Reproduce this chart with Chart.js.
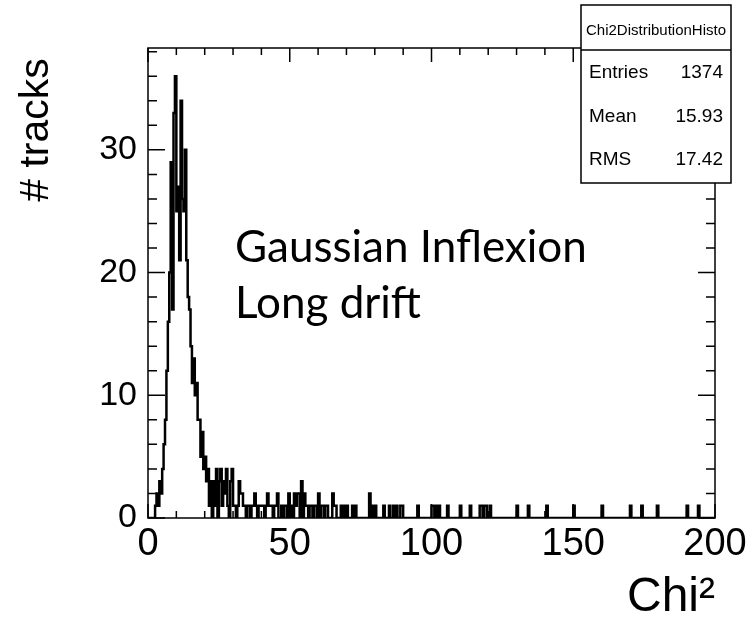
<!DOCTYPE html>
<html><head><meta charset="utf-8">
<script src="https://cdn.jsdelivr.net/npm/chart.js@4/dist/chart.umd.min.js"></script>
<style>html,body{margin:0;padding:0;background:#fff}</style>
</head><body>
<canvas id="c" width="754" height="629"></canvas>
<script>
// ---- data ----
const binWidth = 0.5;           // histogram bin width in Chi2 units
const xRange = [0, 200];
// bin contents for bins starting at 0, 0.5, 1.0 ... 39.5
const peakCounts = [
  0,0,0,0,0,1,2,1,3,2,
  4,6,8,12,16,20,29,17,33,36,
  25,27,21,34,26,25,30,21,18,17,
  14,11,13,10,11,8,8,5,7,4,
  5,3,4,1,3,0,3,1,4,0,
  3,4,1,3,2,4,1,0,3,4,
  1,1,0,1,3,2,2,1,1,0,
  1,1,0,1,1,2,1,0,1,1
];
// sparse tail above 40: lower bin edge and content
const tailLowEdges = [40,40.5,41.5,42,42.5,43,43.5,44.5,45,45.5,47,48,48.5,49.5,50.5,51.5,52,52.5,53,54,55,55.5,56,57,57.5,58.5,59,60,61,61.5,62.5,63,65,65.5,66,68,69,70,72,73,78,79,80,83,85,86.5,87.5,89,89.5,95,100,100.5,101.5,102.5,105.5,110,113.5,117,117.5,118.5,119,120.5,130,134,140.5,150,160,170,174,179.5,190,194];
const tailCounts   = [1,1,1,2,1,1,1,1,1,2,1,1,1,2,1,2,1,2,2,3,2,1,1,1,1,1,1,2,1,1,1,1,2,1,1,1,1,1,1,1,2,1,1,1,1,1,1,1,1,1,1,1,1,1,1,1,1,1,1,1,1,1,1,1,1,1,1,1,1,1,1,1];
const xTickValues = [0, 50, 100, 150, 200];
const xTickLabels = ['0', '50', '100', '150', '200'];
const yTickValues = [0, 10, 20, 30];
const yTickLabels = ['0', '10', '20', '30'];
const yMax = 38.3;
const statsTitle = 'Chi2DistributionHisto';
const statsNames = ['Entries', 'Mean', 'RMS'];
const statsValues = ['1374', '15.93', '17.42'];
const noteLines = ['Gaussian Inflexion', 'Long drift'];
const xTitle = 'Chi\u00B2';
const yTitle = '# tracks\u2005';

// ---- build histogram steps ----
const nBins = Math.round((xRange[1] - xRange[0]) / binWidth);
const counts = new Array(nBins).fill(0);
peakCounts.forEach((v, i) => { counts[i] = v; });
tailLowEdges.forEach((e, i) => { counts[Math.round((e - xRange[0]) / binWidth)] = tailCounts[i]; });
const points = counts.map((v, i) => ({ x: xRange[0] + i * binWidth, y: v }));
points.push({ x: xRange[1], y: counts[nBins - 1] });

const FONT = 'Liberation Sans, Arial, Helvetica, sans-serif';

const rootFrame = {
  id: 'rootFrame',
  afterDatasetsDraw(chart) {
    const { ctx, chartArea: a, scales: { x, y } } = chart;
    ctx.save();
    ctx.strokeStyle = '#000';
    ctx.lineWidth = 1.5;
    ctx.strokeRect(a.left, a.top, a.right - a.left, a.bottom - a.top);
    ctx.beginPath();
    for (let v = xRange[0]; v <= xRange[1]; v += 10) {
      const px = x.getPixelForValue(v);
      const len = (v % 50 === 0) ? 14 : 7;
      ctx.moveTo(px, a.bottom); ctx.lineTo(px, a.bottom - len);
      ctx.moveTo(px, a.top); ctx.lineTo(px, a.top + len);
    }
    for (let v = 0; v <= yMax; v += 2) {
      const py = y.getPixelForValue(v);
      const len = (v % 10 === 0) ? 17 : 9;
      ctx.moveTo(a.left, py); ctx.lineTo(a.left + len, py);
      ctx.moveTo(a.right, py); ctx.lineTo(a.right - len, py);
    }
    ctx.stroke();

    ctx.fillStyle = '#000';
    ctx.font = '44px Lato, Carlito, Calibri, sans-serif';
    ctx.textAlign = 'left';
    ctx.textBaseline = 'alphabetic';
    ctx.fillText(noteLines[0], 235, 262);
    ctx.fillText(noteLines[1], 235, 318);

    const bx = 581, by = 5, bw = 150, bh = 178, sep = 50;
    ctx.fillStyle = '#fff';
    ctx.fillRect(bx, by, bw, bh);
    ctx.lineWidth = 1.5;
    ctx.strokeRect(bx, by, bw, bh);
    ctx.beginPath(); ctx.moveTo(bx, sep); ctx.lineTo(bx + bw, sep); ctx.stroke();
    ctx.fillStyle = '#000';
    ctx.font = '15px ' + FONT;
    ctx.textAlign = 'center'; ctx.textBaseline = 'middle';
    ctx.fillText(statsTitle, bx + bw / 2, 31);
    ctx.font = '19px ' + FONT;
    const rowsY = [73, 117, 160];
    statsNames.forEach((n, i) => {
      ctx.textAlign = 'left'; ctx.fillText(n, bx + 8, rowsY[i]);
      ctx.textAlign = 'right'; ctx.fillText(statsValues[i], bx + bw - 8, rowsY[i]);
    });
    ctx.restore();
  }
};

new Chart(document.getElementById('c'), {
  type: 'line',
  data: { datasets: [{
    data: points, stepped: true, borderColor: '#000', borderWidth: 2.5,
    pointRadius: 0, fill: false, tension: 0
  }]},
  options: {
    responsive: false, animation: false, devicePixelRatio: 1,
    layout: { padding: { left: 0, right: 39, top: 48, bottom: 0 } },
    plugins: { legend: { display: false }, tooltip: { enabled: false } },
    scales: {
      x: {
        type: 'linear', min: xRange[0], max: xRange[1],
        afterFit(s) { s.height = 111; },
        afterBuildTicks(s) { s.ticks = xTickValues.map(v => ({ value: v })); },
        grid: { display: false, drawTicks: false }, border: { display: false },
        ticks: { padding: 4, autoSkip: false, maxRotation: 0, color: '#000',
          font: { family: FONT, size: 38 }, callback: (v, i) => xTickLabels[i] },
        title: { display: true, text: xTitle, align: 'end', color: '#000',
          font: { family: FONT, size: 48 }, padding: { top: 0, bottom: 2 } }
      },
      y: {
        type: 'linear', min: 0, max: yMax,
        afterFit(s) { s.width = 148; },
        afterBuildTicks(s) { s.ticks = yTickValues.map(v => ({ value: v })); },
        grid: { display: false, drawTicks: false }, border: { display: false },
        ticks: { padding: 11, color: '#000', font: { family: FONT, size: 34 },
          callback: (v, i) => yTickLabels[i] },
        title: { display: true, text: yTitle, align: 'end', color: '#000',
          font: { family: FONT, size: 41 }, padding: { top: 12, bottom: 0 } }
      }
    }
  },
  plugins: [rootFrame]
});
</script>
</body></html>
